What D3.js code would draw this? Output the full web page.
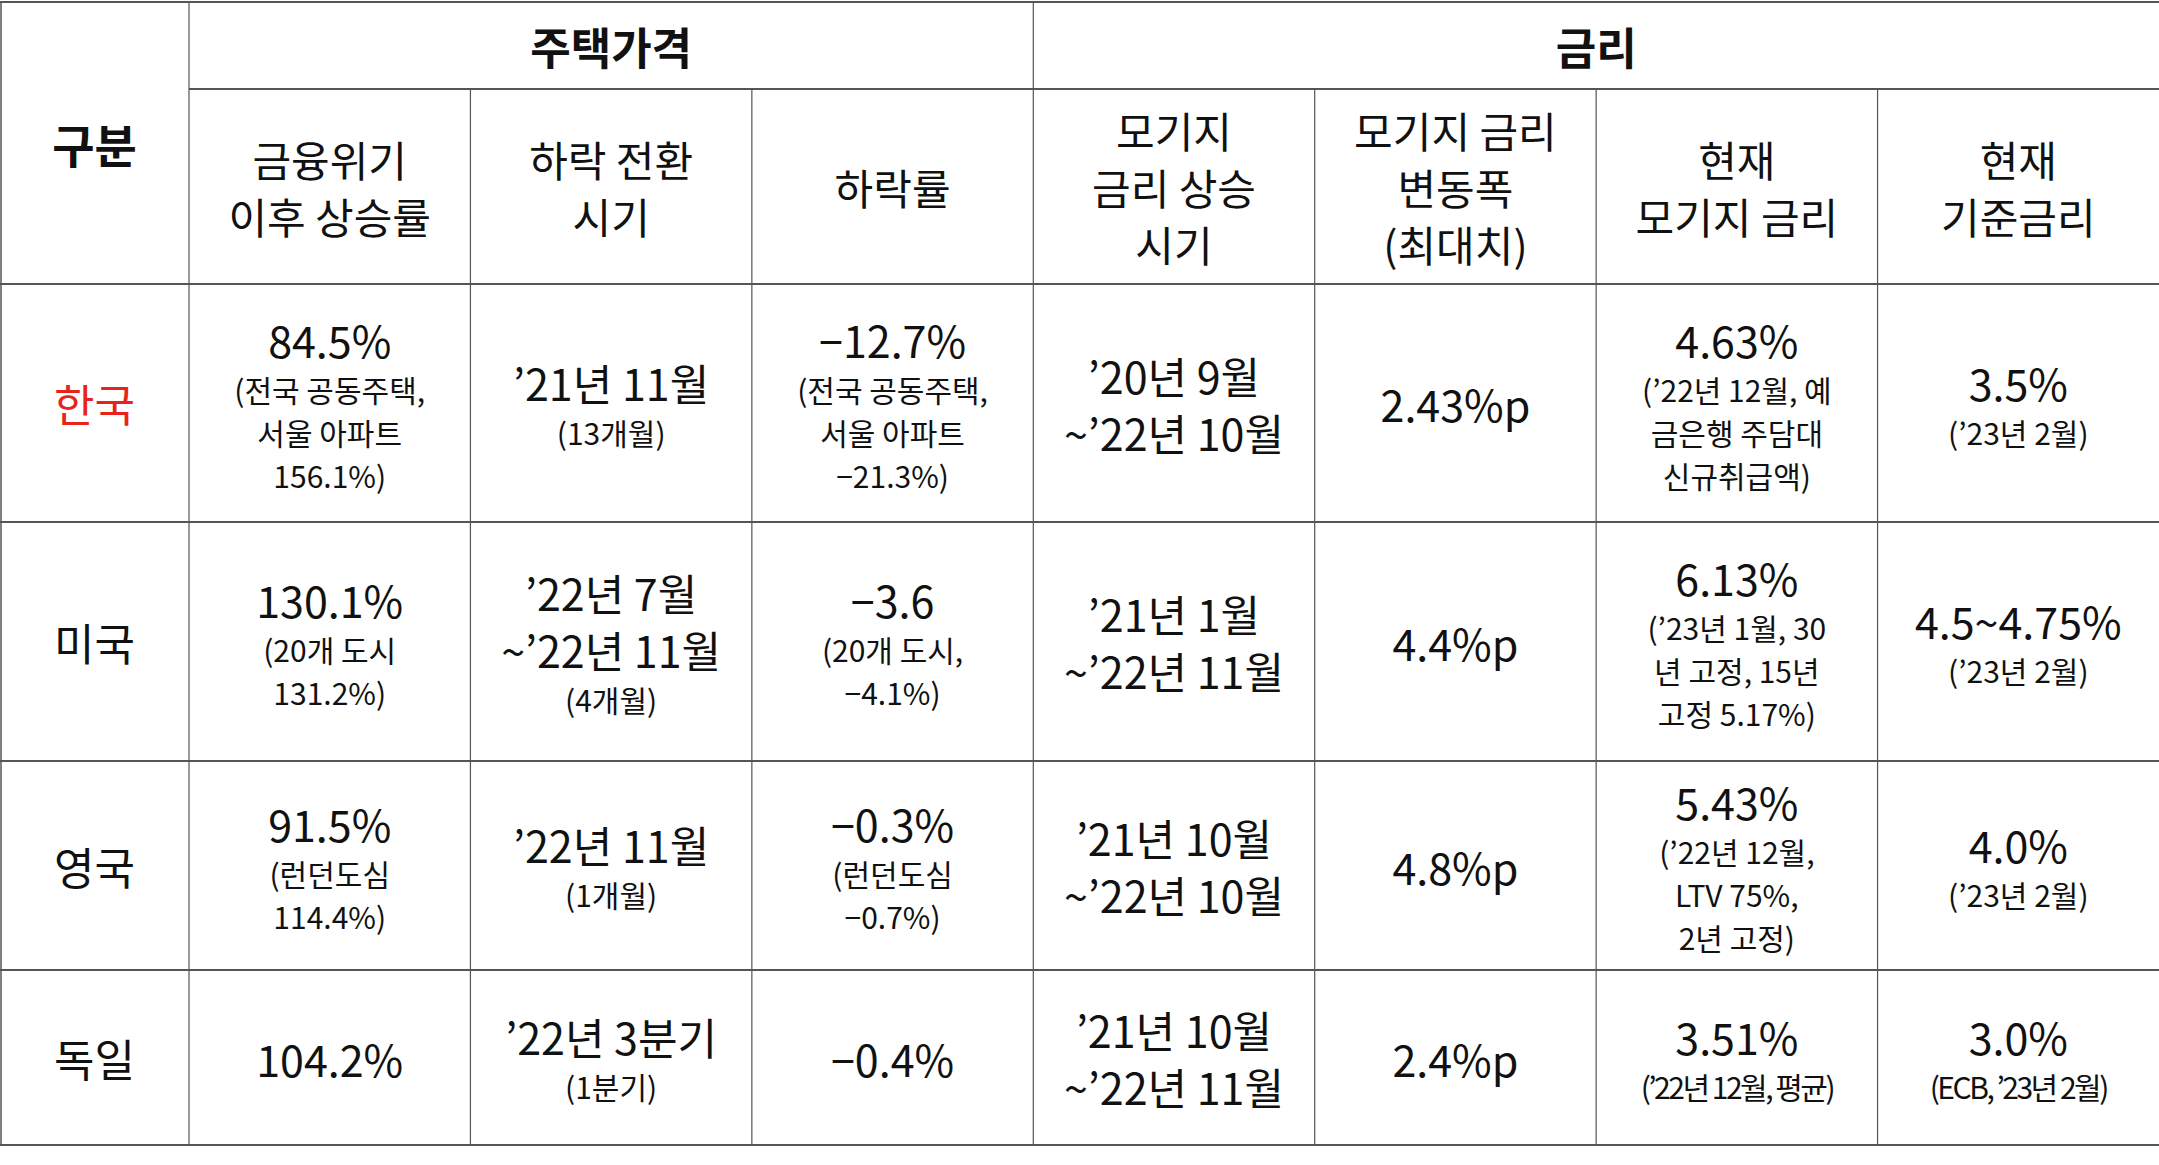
<!DOCTYPE html>
<html>
<head>
<meta charset="utf-8">
<script src="https://cdn.jsdelivr.net/npm/d3@7"></script>
<style>
  body { margin: 0; background: #fff; }
  svg text { font-family: "Noto Sans CJK KR", "Noto Sans", sans-serif; fill: #111; }
</style>
</head>
<body>
<script>
// header groups and sub columns
const groups = [
  {name: "주택가격", span: 3},
  {name: "금리", span: 4}
];
const columns = [
  ["금융위기", "이후 상승률"],
  ["하락 전환", "시기"],
  ["하락률"],
  ["모기지", "금리 상승", "시기"],
  ["모기지 금리", "변동폭", "(최대치)"],
  ["현재", "모기지 금리"],
  ["현재", "기준금리"]
];
const countries = ["한국", "미국", "영국", "독일"];

// each cell: big lines, then small lines
const riseRate = [
  {big: ["84.5%"], small: ["(전국 공동주택,", "서울 아파트", "156.1%)"]},
  {big: ["130.1%"], small: ["(20개 도시", "131.2%)"]},
  {big: ["91.5%"], small: ["(런던도심", "114.4%)"]},
  {big: ["104.2%"], small: []}
];
const turnTime = [
  {big: ["’21년 11월"], small: ["(13개월)"]},
  {big: ["’22년 7월", "~’22년 11월"], small: ["(4개월)"]},
  {big: ["’22년 11월"], small: ["(1개월)"]},
  {big: ["’22년 3분기"], small: ["(1분기)"]}
];
const fallRate = [
  {big: ["−12.7%"], small: ["(전국 공동주택,", "서울 아파트", "−21.3%)"]},
  {big: ["−3.6"], small: ["(20개 도시,", "−4.1%)"]},
  {big: ["−0.3%"], small: ["(런던도심", "−0.7%)"]},
  {big: ["−0.4%"], small: []}
];
const hikeTime = [
  {big: ["’20년 9월", "~’22년 10월"], small: []},
  {big: ["’21년 1월", "~’22년 11월"], small: []},
  {big: ["’21년 10월", "~’22년 10월"], small: []},
  {big: ["’21년 10월", "~’22년 11월"], small: []}
];
const hikeSize = [
  {big: ["2.43%p"], small: []},
  {big: ["4.4%p"], small: []},
  {big: ["4.8%p"], small: []},
  {big: ["2.4%p"], small: []}
];
const mortgageNow = [
  {big: ["4.63%"], small: ["(’22년 12월, 예", "금은행 주담대", "신규취급액)"]},
  {big: ["6.13%"], small: ["(’23년 1월, 30", "년 고정, 15년", "고정 5.17%)"]},
  {big: ["5.43%"], small: ["(’22년 12월,", "LTV 75%,", "2년 고정)"]},
  {big: ["3.51%"], small: ["(’22년 12월, 평균)"], tight: true}
];
const baseNow = [
  {big: ["3.5%"], small: ["(’23년 2월)"]},
  {big: ["4.5~4.75%"], small: ["(’23년 2월)"]},
  {big: ["4.0%"], small: ["(’23년 2월)"]},
  {big: ["3.0%"], small: ["(ECB, ’23년 2월)"], tight: true}
];
const cells = [riseRate, turnTime, fallRate, hikeTime, hikeSize, mortgageNow, baseNow];

const W = 2159, H = 1165;
const svg = d3.select("body").append("svg").attr("width", W).attr("height", H);

// 7 equal data columns after the label column
const colScale = d3.scaleLinear().domain([0, 7]).range([189, 2159]);
const colX = i => colScale(i);
const rowY = [2, 89, 284, 522, 761, 970, 1145];

const lineColor = "#555";

// horizontal lines
[rowY[0], rowY[2], rowY[3], rowY[4], rowY[5], rowY[6]].forEach(y =>
  svg.append("line").attr("x1", 0).attr("x2", W).attr("y1", y).attr("y2", y)
    .attr("stroke", lineColor).attr("stroke-width", 2));
svg.append("line").attr("x1", colX(0)).attr("x2", W).attr("y1", rowY[1]).attr("y2", rowY[1])
  .attr("stroke", lineColor).attr("stroke-width", 2);

// vertical lines
svg.append("line").attr("x1", 1).attr("x2", 1).attr("y1", rowY[0]).attr("y2", rowY[6])
  .attr("stroke", lineColor).attr("stroke-width", 1.5);
d3.range(0, 7).forEach(i => {
  const top = (i === 3 || i === 0) ? rowY[0] : rowY[1];
  svg.append("line").attr("x1", colX(i)).attr("x2", colX(i)).attr("y1", top).attr("y2", rowY[6])
    .attr("stroke", lineColor).attr("stroke-width", 1.2);
});

// group headers
let start = 0;
groups.forEach(g => {
  svg.append("text").attr("x", (colX(start) + colX(start + g.span)) / 2).attr("y", (rowY[0] + rowY[1]) / 2)
    .attr("text-anchor", "middle").attr("dominant-baseline", "central")
    .attr("font-size", 44).attr("font-weight", 700).text(g.name);
  start += g.span;
});
svg.append("text").attr("x", colX(0) / 2).attr("y", (rowY[0] + rowY[2]) / 2)
  .attr("text-anchor", "middle").attr("dominant-baseline", "central")
  .attr("font-size", 46).attr("font-weight", 700).text("구분");

// column headers
columns.forEach((lines, i) => {
  const cx = (colX(i) + colX(i + 1)) / 2;
  const cy = (rowY[1] + rowY[2]) / 2;
  const lh = 57;
  lines.forEach((t, j) => {
    svg.append("text").attr("x", cx).attr("y", cy + (j - (lines.length - 1) / 2) * lh)
      .attr("text-anchor", "middle").attr("dominant-baseline", "central")
      .attr("font-size", 42).text(t);
  });
});

// row labels
countries.forEach((c, r) => {
  svg.append("text").attr("x", colX(0) / 2).attr("y", (rowY[r + 2] + rowY[r + 3]) / 2)
    .attr("text-anchor", "middle").attr("dominant-baseline", "central")
    .attr("font-size", 44).style("fill", r === 0 ? "#e8231c" : "#111").text(c);
});

// body cells
const bigH = 57, smallH = 43;
cells.forEach((col, i) => {
  const cx = (colX(i) + colX(i + 1)) / 2;
  col.forEach((cell, r) => {
    const items = cell.big.map(t => ({t, big: true})).concat(cell.small.map(t => ({t, big: false})));
    const total = d3.sum(items, d => d.big ? bigH : smallH);
    let y = (rowY[r + 2] + rowY[r + 3]) / 2 - total / 2;
    items.forEach(d => {
      const h = d.big ? bigH : smallH;
      const txt = svg.append("text").attr("x", cx).attr("y", y + h / 2)
        .attr("text-anchor", "middle").attr("dominant-baseline", "central")
        .attr("font-size", d.big ? 43 : 30).text(d.t);
      if (!d.big && cell.tight) txt.attr("letter-spacing", -2.5);
      y += h;
    });
  });
});
</script>
</body>
</html>
